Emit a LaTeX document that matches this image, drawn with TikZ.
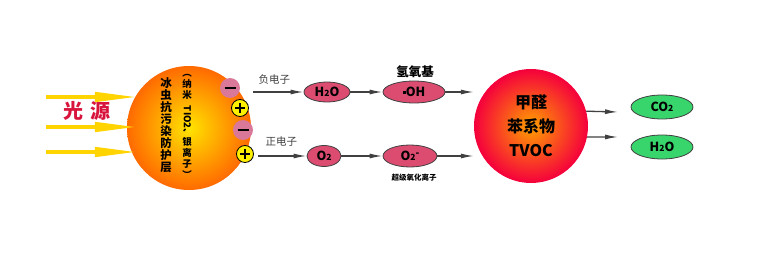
\documentclass[tikz,border=0pt]{standalone}
\usepackage{fontspec}
\usepackage{graphicx}
\setmainfont{Noto Sans CJK SC}
\usetikzlibrary{arrows.meta,shapes.geometric}
\definecolor{Sun}{HTML}{FFE400}
\definecolor{Amber}{HTML}{FF6A00}
\definecolor{Flame}{HTML}{FFA000}
\definecolor{Crimson}{HTML}{F5003C}
\definecolor{Rose}{HTML}{DC4C70}
\definecolor{Blush}{HTML}{D97898}
\definecolor{Lemon}{HTML}{FFF000}
\definecolor{Leaf}{HTML}{38D46C}
\definecolor{Ink}{HTML}{404040}
\definecolor{Ray}{HTML}{FFD400}
\definecolor{Title}{HTML}{D8143C}
\newcommand{\subtwo}{{\fontsize{8.5}{8.5}\selectfont 2}}

\begin{document}
\begin{tikzpicture}[x=1pt,y=-1pt,font=\bfseries,
  ray/.style={Ray,line width=4.5pt,-{Triangle[length=45pt,width=9pt]}},
  flow/.style={Ink,line width=1.3pt,-{Latex[length=13pt,width=5pt]}},
  species/.style={ellipse,draw=Ink,line width=.8pt,fill=Rose,inner sep=0pt,font=\fontsize{12.5}{12.5}\selectfont\bfseries},
  gas/.style={species,fill=Leaf,minimum width=62pt,minimum height=24pt},
  note/.style={font=\fontsize{10.5}{10.5}\selectfont\mdseries,text=Ink},
  agent/.style={align=center,font=\fontsize{9.5}{11}\selectfont\bfseries},
  minus/.style={circle,inner sep=0pt,fill=Blush,minimum size=20pt,path picture={
    \draw[line width=2.6pt] ([xshift=-5.5pt]path picture bounding box.center) -- ([xshift=5.5pt]path picture bounding box.center);}},
  plus/.style={circle,inner sep=0pt,draw=black,line width=.8pt,fill=Lemon,minimum size=17pt,path picture={
    \draw[line width=2.4pt] ([xshift=-5pt]path picture bounding box.center) -- ([xshift=5pt]path picture bounding box.center);
    \draw[line width=2.4pt] ([yshift=-5pt]path picture bounding box.center) -- ([yshift=5pt]path picture bounding box.center);}}]
  \useasboundingbox (0,0) rectangle (780,262);
  % light on the coating
  \coordinate (r1) at (46,97); \coordinate (r2) at (46,127); \coordinate (r3) at (46,152);
  \node[circle,minimum size=124pt,inner color=Sun,outer color=Amber] (layer) at (189,128) {};
  \foreach \r in {r1,r2,r3} \draw[ray,shorten >=-13pt] (\r) -- (\r -| layer.west);
  \node[font=\fontsize{20}{20}\selectfont\bfseries,text=Title] (light) at (87,111) {光\hspace{7pt}源};
  \node[align=center,font=\fontsize{11.5}{12}\selectfont\bfseries] (coat) at (166,125) {冰\\虫\\抗\\污\\染\\防\\护\\层};
  \node[agent] (agtop) at (187,87) {︵\\纳\\米};
  \node[agent,rotate=-90] (agmid) at (187,122) {TIO2、};
  \node[agent] (agbot) at (187,158) {银\\离\\子\\︶};
  \node[minus] (m1) at (230,88) {};
  \node[plus] (p1) at (240,108) {};
  \node[minus] (m2) at (243,130) {};
  \node[plus] (p2) at (245,154) {};
  % two reaction rows
  \coordinate (eneg) at (253,92); \coordinate (epos) at (258,156);
  \node[species,minimum width=46pt,minimum height=20pt] (h2oa) at (327,92) {H\subtwo O};
  \node[species,minimum width=62pt,minimum height=22pt] (oh) at (414,92) {\rule[3pt]{3pt}{3pt}OH};
  \node[species,minimum width=34pt,minimum height=21pt] (o2) at (324,156) {O\subtwo};
  \node[species,minimum width=54pt,minimum height=22pt] (sup) at (410,156) {O\subtwo\raisebox{.6ex}{\fontsize{10}{10}\selectfont -}};
  \node[note,anchor=south west] (neg) at (255,88) {负电子};
  \node[note,anchor=south west] (pos) at (262,150) {正电子};
  \node[font=\fontsize{12.5}{12.5}\selectfont\bfseries] (ohname) at (415,72) {氢氧基};
  \node[font=\fontsize{7.5}{7.5}\selectfont\bfseries] (supname) at (414,178) {超级氧化离子};
  \node[circle,minimum size=114pt,inner color=Flame,outer color=Crimson,align=center,font=\fontsize{16}{24}\selectfont\bfseries] (tvoc) at (531,126) {甲醛\\苯系物\\TVOC};
  \draw[flow] (eneg) -- (h2oa);
  \draw[flow] (h2oa) -- (oh);
  \draw[flow] (oh) -- (oh -| tvoc.west);
  \draw[flow] (epos) -- (o2);
  \draw[flow] (o2) -- (sup);
  \draw[flow] (sup) -- (sup -| tvoc.west);
  % products
  \node[gas] (co2) at (662,107) {CO\subtwo};
  \node[gas] (h2ob) at (662,147) {H\subtwo O};
  \coordinate (out1) at (618,112); \coordinate (out2) at (618,137);
  \draw[flow] (tvoc.15) -- (out1);
  \draw[flow] (tvoc.-11) -- (out2);
\end{tikzpicture}
\end{document}
